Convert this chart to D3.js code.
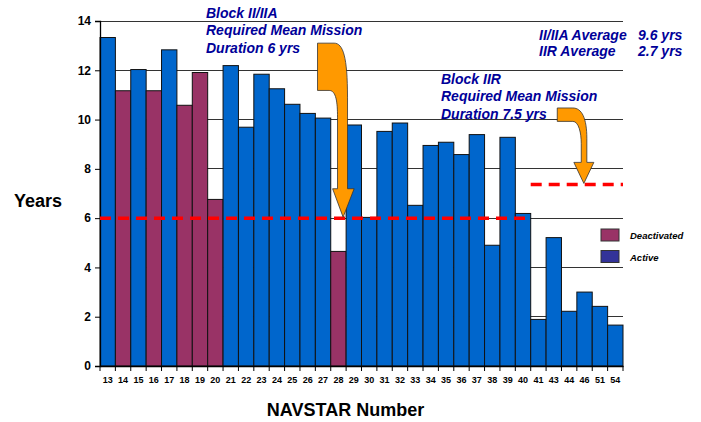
<!DOCTYPE html>
<html>
<head>
<meta charset="utf-8">
<script src="https://cdn.jsdelivr.net/npm/d3@7"></script>
<style>
  body { margin: 0; background: #fff; }
  text { font-family: Arial, "Liberation Sans", sans-serif; }
</style>
</head>
<body>
<svg id="chart" width="701" height="422"></svg>
<script>
  // NAVSTAR satellites and their years on orbit
  var navstar = ['13','14','15','16','17','18','19','20','21','22','23','24','25','26','27','28','29','30',
                 '31','32','33','34','35','36','37','38','39','40','41','43','44','46','51','54'];
  var years = [13.33, 11.17, 12.03, 11.17, 12.83, 10.58, 11.91, 6.76, 12.19, 9.69, 11.84, 11.25, 10.62, 10.25,
               10.06, 4.65, 9.78, 6.03, 9.52, 9.86, 6.52, 8.95, 9.08, 8.58, 9.39, 4.9, 9.28, 6.19, 1.89, 5.21,
               2.22, 3.0, 2.42, 1.66];
  var deactivated = ['14', '16', '18', '19', '20', '28'];
  var yTicks = [0, 2, 4, 6, 8, 10, 12, 14];
  var legendItems = ['Deactivated', 'Active'];
  var legendColors = ['#993366', '#333399'];
  var requirement = [
    {value: 6, from: '13', to: '40'},
    {value: 7.37, from: '41', to: '54'}
  ];

  var svg = d3.select('#chart');
  var margin = {left: 100, right: 78, top: 21, bottom: 56};
  var width = 701 - margin.left - margin.right;
  var height = 422 - margin.top - margin.bottom;

  var x = d3.scaleBand().domain(navstar).range([margin.left, margin.left + width]).padding(0);
  var y = d3.scaleLinear().domain([0, 14]).range([margin.top + height, margin.top]);

  // gridlines
  svg.append('g').selectAll('line')
    .data(yTicks.filter(function(t) { return t > 0; }))
    .enter().append('line')
    .attr('x1', margin.left).attr('x2', margin.left + width)
    .attr('y1', function(d) { return y(d); }).attr('y2', function(d) { return y(d); })
    .attr('stroke', '#333').attr('stroke-width', 1).attr('shape-rendering', 'crispEdges');

  // bars
  svg.append('g').selectAll('rect')
    .data(navstar)
    .enter().append('rect')
    .attr('x', function(d) { return x(d); })
    .attr('width', x.bandwidth())
    .attr('y', function(d, i) { return y(years[i]); })
    .attr('height', function(d, i) { return y(0) - y(years[i]); })
    .attr('fill', function(d) { return deactivated.indexOf(d) >= 0 ? '#993366' : '#0066cc'; })
    .attr('stroke', '#111')
    .attr('stroke-width', 1);

  // axes
  var yAxis = svg.append('g')
    .attr('transform', 'translate(' + margin.left + ',0)')
    .call(d3.axisLeft(y).tickValues(yTicks).tickSize(5).tickPadding(4));
  var xAxis = svg.append('g')
    .attr('transform', 'translate(0,' + y(0) + ')')
    .call(d3.axisBottom(x).tickSize(0).tickPadding(11));
  [yAxis, xAxis].forEach(function(ax) {
    ax.select('.domain').attr('stroke', '#000').attr('stroke-width', 1.3);
    ax.selectAll('line').attr('stroke', '#000');
    ax.selectAll('text').attr('fill', '#000').style('font-weight', 'bold')
      .style('font-family', 'Arial, "Liberation Sans", sans-serif');
  });
  yAxis.selectAll('text').style('font-size', '12px');
  xAxis.selectAll('text').style('font-size', '9px');
  // category boundary ticks on the x axis
  xAxis.selectAll('.boundary')
    .data(navstar.concat(['end']))
    .enter().append('line')
    .attr('x1', function(d) { return d === 'end' ? margin.left + width : x(d); })
    .attr('x2', function(d) { return d === 'end' ? margin.left + width : x(d); })
    .attr('y1', 0).attr('y2', 5)
    .attr('stroke', '#000');

  // required mean mission duration lines
  svg.append('g').selectAll('line')
    .data(requirement)
    .enter().append('line')
    .attr('x1', function(d) { return x(d.from); })
    .attr('x2', function(d) { return x(d.to) + x.bandwidth(); })
    .attr('y1', function(d) { return y(d.value); })
    .attr('y2', function(d) { return y(d.value); })
    .attr('stroke', '#ff0000').attr('stroke-width', 3.5)
    .attr('stroke-dasharray', '11,7');

  // orange arrows, anchored at their tips
  var arrow1 = 'M-25.6,-174 L-25.6,-126.7 L-14,-126.7 C-7,-126.7 -5.6,-115 -5.6,-100 L-5.6,-28.4 L-10.5,-28.4 ' +
               'L0,0 L11,-28.4 L4.4,-28.4 L4.4,-120 C4.4,-160 0,-174 -9,-174 Z';
  var arrow2 = 'M-26.6,-75.4 L-26.6,-62 L-11,-62 C-5,-62 -2.6,-50 -2.6,-40 L-2.6,-21 L-10,-21 L0,0 L10,-21 ' +
               'L3,-21 L3,-45 C3,-65 -2,-75.4 -11,-75.4 Z';
  svg.append('path').attr('d', arrow1)
    .attr('transform', 'translate(' + (x('29') - 3) + ',' + (y(6) - 1) + ')')
    .attr('fill', '#ff9900').attr('stroke', '#333').attr('stroke-width', 0.8);
  svg.append('path').attr('d', arrow2)
    .attr('transform', 'translate(' + (x('46') + 7) + ',' + (y(7.37) - 1) + ')')
    .attr('fill', '#ff9900').attr('stroke', '#333').attr('stroke-width', 0.8);

  // annotations
  var note = function(txt, tx, ty) {
    svg.append('text').attr('x', tx).attr('y', ty).text(txt)
      .attr('fill', '#000099').style('font-size', '14px')
      .style('font-weight', 'bold').style('font-style', 'italic');
  };
  note('Block II/IIA', 206, 17.5);
  note('Required Mean Mission', 206, 35);
  note('Duration 6 yrs', 206, 52.5);
  note('Block IIR', 441, 83.5);
  note('Required Mean Mission', 441, 101);
  note('Duration 7.5 yrs', 441, 118.5);
  note('II/IIA Average', 539, 39.5);
  note('9.6 yrs', 638, 39.5);
  note('IIR Average', 539, 56);
  note('2.7 yrs', 638, 56);

  // axis titles
  svg.append('text').attr('x', 14).attr('y', 207).text('Years')
    .style('font-size', '18px').style('font-weight', 'bold');
  svg.append('text').attr('x', x.range()[0] + width / 2 - 16).attr('y', 416).attr('text-anchor', 'middle')
    .text('NAVSTAR Number').style('font-size', '18px').style('font-weight', 'bold');

  // legend
  var legend = svg.append('g').attr('transform', 'translate(601,229)');
  legend.selectAll('rect').data(legendItems).enter().append('rect')
    .attr('x', 0).attr('y', function(d, i) { return i * 21.5; })
    .attr('width', 18).attr('height', 12)
    .attr('fill', function(d, i) { return legendColors[i]; })
    .attr('stroke', '#333').attr('stroke-width', 1);
  legend.selectAll('text').data(legendItems).enter().append('text')
    .attr('x', 29).attr('y', function(d, i) { return i * 21.5 + 10; })
    .text(function(d) { return d; })
    .style('font-size', '9.5px').style('font-weight', 'bold').style('font-style', 'italic');
</script>
</body>
</html>
